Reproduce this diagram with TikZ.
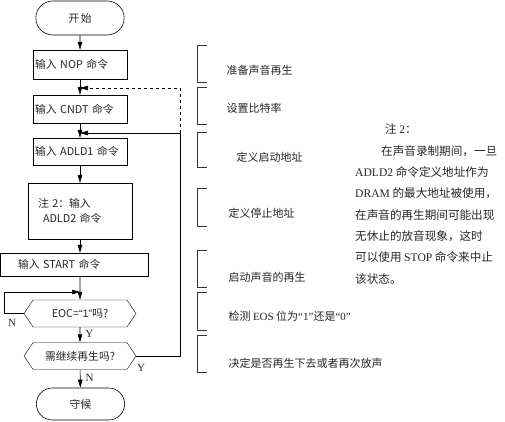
\documentclass[tikz,border=0pt]{standalone}
\usepackage{fontspec}
\setmainfont{Liberation Serif}
\newfontfamily\cjk{Noto Sans CJK SC}
\newfontfamily\lsans{Liberation Sans}
\usetikzlibrary{arrows.meta, positioning, shapes.misc, shapes.symbols}

\begin{document}
\begin{tikzpicture}[
  x=1pt, y=-1pt,
  every node/.style={text=black!85},
  box/.style={draw, align=left, inner ysep=1pt, font=\cjk\fontsize{10.8}{15}\selectfont},
  term/.style={draw, rounded rectangle, minimum width=95pt, font=\cjk\fontsize{10.8}{15}\selectfont},
  test/.style={draw, signal, signal to=east and west, signal pointer angle=112,
    minimum width=112pt, minimum height=27pt, inner sep=1pt, font=\cjk\fontsize{10.8}{15}\selectfont},
  yn/.style={font=\rmfamily\fontsize{11}{12}\selectfont, inner sep=0pt},
  note/.style={anchor=west, font=\cjk\fontsize{11}{14}\selectfont},
  arrow/.style={-{Triangle[length=8pt,width=4.5pt]}, semithick}
]
\useasboundingbox (0,0) rectangle (505,422);

\node[term, minimum height=34pt, semithick] (start) at (80,18) {开\,始};
\node[box, minimum height=29pt, text width=90pt, inner xsep=2pt] (nop) at (80,64.5) {输入 NOP 命令};
\node[box, minimum height=28pt, text width=90pt, inner xsep=2pt] (cndt) at (80,109) {输入 CNDT 命令};
\node[box, minimum height=27pt, text width=90pt, inner xsep=2pt] (adld1) at (80,151.5) {输入 ADLD1 命令};
\node[box, minimum height=56pt, text width=84pt, inner xsep=10pt] (adld2) at (80,211) {注 2：输入\\\hspace*{5pt}ADLD2 命令};
\node[box, minimum height=23pt, text width=112pt, inner xsep=18pt] (startcmd) at (74,264.5) {输入 START 命令};
\node[test] (eoc) at (80,313.5) {EOC={\lsans “1”}吗?};
\node[test] (cont) at (80,356) {需继续再生吗?};
\node[term, minimum height=32pt, semithick] (stop) at (80.5,404) {守候};

\coordinate (j1) at (80,88);
\coordinate (j2) at (80,133);
\coordinate (j3) at (80,292);
\coordinate (r) at (180,133);

\draw[arrow] (start) -- (nop);
\draw[arrow] (nop) -- (cndt);
\draw[arrow] (cndt) -- (adld1);
\draw[arrow] (adld1) -- (adld2);
\draw[arrow] (adld2.south) -- (adld2.south |- startcmd.north);
\draw[arrow] (startcmd.south -| eoc) -- (eoc);
\draw[arrow] (eoc) -- node[yn, pos=0.45, right=5pt] {Y} (cont);
\draw[arrow] (cont) -- node[yn, pos=0.45, right=5pt] {N} (stop);
\draw[arrow] (eoc.west) -- ++(-19,0) |- (j3);
\node[yn] (n) at (12,323) {N};
\draw[arrow] (cont.east) -| (r) -- (j2);
\node[yn] (y) at (141,368) {Y};
\draw[arrow, dashed] (r) |- (j1);

\foreach \a/\b in {45/82, 87/124, 132/167, 188/226, 250/287, 292/330, 335/372}
  \draw[black!80] (207,\a) -| (197,\b) -- (207,\b);

\node[note] (t1) at (223,70) {准备声音再生};
\node[note] (t2) at (223,108) {设置比特率};
\node[note] (t3) at (233,157) {定义启动地址};
\node[note] (t4) at (225,213) {定义停止地址};
\node[note] (t5) at (225,277) {启动声音的再生};
\node[note] (t6) at (225,316) {检测 {\rmfamily EOS} 位为{\rmfamily “1”}还是{\rmfamily “0”}};
\node[note] (t7) at (225,363) {决定是否再生下去或者再次放声};

\node[anchor=north west, align=left, inner sep=0pt, font=\cjk\fontsize{11.6}{21.3}\selectfont] (remark) at (355,124)
  {\hspace*{30pt}注 {\rmfamily 2}：\\
   \hspace*{26pt}在声音录制期间，一旦\\
   {\rmfamily ADLD2} 命令定义地址作为\\
   {\rmfamily DRAM} 的最大地址被使用，\\
   在声音的再生期间可能出现\\
   无休止的放音现象，这时\\
   可以使用 {\rmfamily STOP} 命令来中止\\
   该状态。};
\end{tikzpicture}
\end{document}
